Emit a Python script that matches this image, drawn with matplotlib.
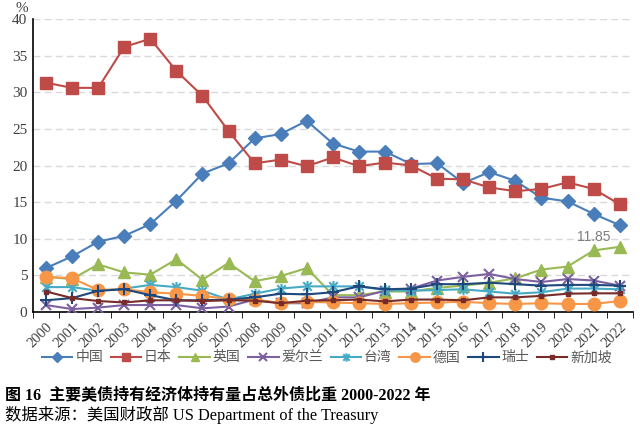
import matplotlib
matplotlib.use("Agg")
import matplotlib.pyplot as plt
from matplotlib.path import Path
import numpy as np

plt.rcParams['font.family'] = ['Liberation Serif', 'Noto Sans CJK SC', 'DejaVu Sans']

years = [str(y) for y in range(2000, 2023)]

china = [6.0, 7.6, 9.6, 10.4, 12.0, 15.2, 18.9, 20.3, 23.7, 24.3, 26.1, 23.0, 21.9,
         21.9, 20.2, 20.3, 17.6, 19.1, 17.9, 15.6, 15.1, 13.4, 11.85]
japan = [31.3, 30.6, 30.6, 36.2, 37.3, 32.9, 29.5, 24.7, 20.3, 20.8, 19.9, 21.1, 19.9,
         20.4, 20.0, 18.2, 18.1, 17.0, 16.5, 16.8, 17.7, 16.8, 14.7]
uk = [4.8, 4.5, 6.5, 5.4, 5.1, 7.2, 4.4, 6.7, 4.2, 4.9, 6.0, 2.3, 2.3,
      2.8, 2.8, 3.3, 3.6, 4.0, 4.6, 5.8, 6.2, 8.4, 8.9]
ireland = [0.95, 0.4, 0.6, 0.95, 0.95, 0.95, 0.5, 0.75, 1.7, 1.2, 1.2, 2.0, 2.0,
           2.9, 3.2, 4.3, 4.8, 5.2, 4.5, 4.1, 4.5, 4.3, 3.6]
taiwan = [3.4, 3.4, 2.9, 3.2, 3.7, 3.4, 2.9, 1.7, 2.5, 3.2, 3.5, 3.5, 3.5,
          3.0, 2.9, 3.0, 3.1, 2.8, 2.5, 2.7, 3.2, 3.2, 3.1]
germany = [4.8, 4.6, 3.0, 3.1, 2.7, 2.5, 2.2, 1.8, 1.7, 1.2, 1.4, 1.3, 1.2,
           1.1, 1.2, 1.3, 1.4, 1.2, 1.1, 1.2, 1.1, 1.1, 1.5]
swiss = [1.6, 1.9, 2.9, 3.1, 2.3, 1.6, 1.6, 1.7, 2.0, 2.5, 2.4, 2.7, 3.5,
         3.1, 3.2, 3.8, 3.8, 4.0, 3.8, 3.6, 3.7, 3.7, 3.6]
singapore = [2.8, 1.9, 1.5, 1.3, 1.6, 1.6, 1.5, 1.6, 1.55, 1.2, 1.55, 1.6, 1.7,
             1.45, 1.7, 1.7, 1.6, 2.0, 2.0, 2.2, 2.5, 2.55, 2.55]

names = ['中国', '日本', '英国', '爱尔兰', '台湾', '德国', '瑞士', '新加坡']

# excel style "star": an x with a vertical bar
star = Path([(-1, -1), (1, 1), (-1, 1), (1, -1), (0, -1.3), (0, 1.3)],
            [Path.MOVETO, Path.LINETO, Path.MOVETO, Path.LINETO, Path.MOVETO, Path.LINETO])

series = [
    (china, '#4A7EBB', 'D', 7),
    (japan, '#BE4B48', 's', 8),
    (uk, '#98B954', '^', 8),
    (ireland, '#7D60A0', 'x', 7),
    (taiwan, '#46AAC5', star, 8),
    (germany, '#F79646', 'o', 9),
    (swiss, '#1F497D', '+', 9),
    (singapore, '#772C2A', 's', 3.5),
]

fig = plt.figure(figsize=(6.4, 4.29), dpi=100)
ax = fig.add_axes([0.0516, 0.2727, 0.937, 0.683])

x = np.arange(len(years))
handles = []
for (vals, col, mk, ms), nm in zip(series, names):
    mew = 1.5 if mk in ('x', '+') or mk is star else 1
    h, = ax.plot(x, vals, color=col, lw=1.5, marker=mk, markersize=ms,
                 markerfacecolor=col, markeredgecolor=col, markeredgewidth=mew,
                 label=nm, zorder=3)
    handles.append(h)

ax.text(21, 10.3, '11.85', color='#7F7F7F', fontsize=10, ha='center', va='center',
        family=['Liberation Sans', 'DejaVu Sans'])

ax.set_xlim(-0.5, 22.5)
ax.set_ylim(0, 40)
ax.set_yticks(range(0, 41, 5))
ax.yaxis.grid(True, color='#D9D9D9', lw=1, dashes=(5, 3))
ax.set_axisbelow(True)

ax.set_xticks(x)
ax.set_xticklabels(years, rotation=45, ha='right', rotation_mode='anchor')
ax.set_xticks(np.arange(-0.5, 23, 1), minor=True)
ax.tick_params(axis='x', which='major', length=0, labelsize=10.5, labelcolor='#404040', pad=6)
ax.tick_params(axis='x', which='minor', length=4, direction='out', color='black')
ax.tick_params(axis='y', length=0, labelsize=11, labelcolor='#404040', pad=4)

for s in ['top', 'right']:
    ax.spines[s].set_visible(False)
ax.spines['left'].set_color('black')
ax.spines['bottom'].set_color('black')
ax.spines['left'].set_linewidth(1.2)
ax.spines['bottom'].set_linewidth(1.2)

fig.text(22 / 640, 1 - 8 / 429, '%', fontsize=11, color='#404040', ha='center', va='center')

leg = ax.legend(handles=handles, loc='center', bbox_to_anchor=(0.49, -0.155), ncol=8,
                frameon=False, handlelength=2.2, columnspacing=0.55, markerscale=0.75,
                handletextpad=0.2, prop={'family': ['Noto Sans CJK SC'], 'size': 10})
for t in leg.get_texts():
    t.set_color('#595959')

fig.text(5 / 640, 1 - 395 / 429, '图 16  主要美债持有经济体持有量占总外债比重 2000-2022 年',
         fontsize=11.5, fontweight='bold', ha='left', va='center',
         family=['Liberation Serif', 'Noto Sans CJK SC'])
fig.text(5 / 640, 1 - 415 / 429, '数据来源：美国财政部 US Department of the Treasury',
         fontsize=11.8, ha='left', va='center',
         family=['Liberation Serif', 'Noto Sans CJK SC'])

fig.savefig('out.png', dpi=100)
